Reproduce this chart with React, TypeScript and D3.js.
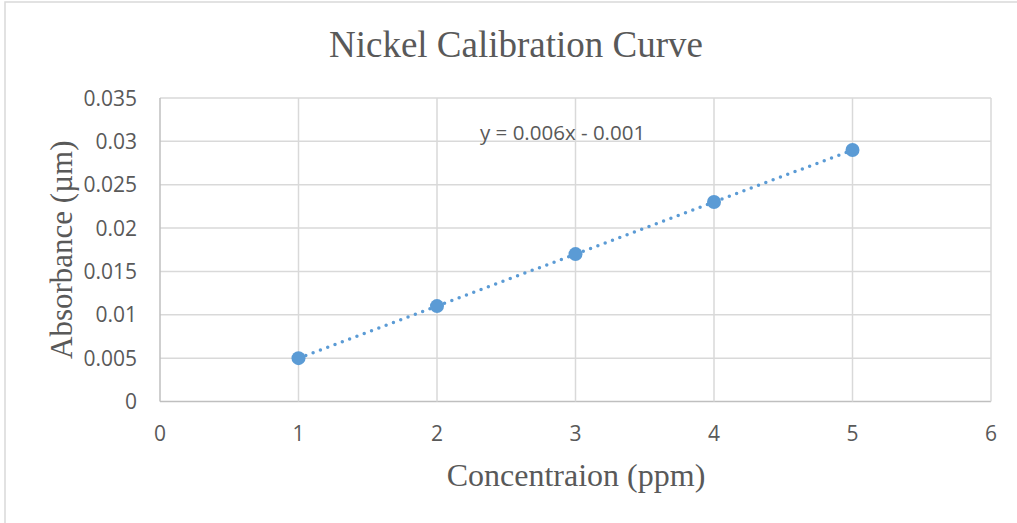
import React from "react"
import * as d3 from "d3"

const concentration = [1, 2, 3, 4, 5]
const absorbance = [0.005, 0.011, 0.017, 0.023, 0.029]
const xTicks = [0, 1, 2, 3, 4, 5, 6]
const yTicks = [0, 0.005, 0.01, 0.015, 0.02, 0.025, 0.03, 0.035]
const slope = 0.006
const intercept = -0.001

const W = 1017
const H = 523
const plot = { left: 160, right: 991, top: 98, bottom: 401.5 }
const blue = "#5B9BD5"
const sans = "'Open Sans', 'Liberation Sans', sans-serif"
const serif = "'Liberation Serif', 'DejaVu Serif', serif"

export default function App() {
  const x = d3.scaleLinear().domain([0, 6]).range([plot.left, plot.right])
  const y = d3.scaleLinear().domain([0, 0.035]).range([plot.bottom, plot.top])

  const trend = d3.line<number>()
    .x(d => x(d))
    .y(d => y(slope * d + intercept))([concentration[0], concentration[concentration.length - 1]])

  return (
    <svg width={W} height={H} style={{ position: "absolute", left: 0, top: 0, background: "white" }}>
      <rect x={5} y={2} width={W + 10} height={H + 10} fill="white" stroke="#d9d9d9" strokeWidth={1.5} />
      <text x={516} y={57} textAnchor="middle" fontFamily={serif} fontSize={37} fill="#595959">
        Nickel Calibration Curve
      </text>
      {yTicks.map(t => (
        <g key={"y" + t}>
          <line x1={plot.left} x2={plot.right} y1={y(t)} y2={y(t)} stroke={t === 0 ? "#bfbfbf" : "#d9d9d9"} strokeWidth={1.5} />
          <text x={137} y={y(t) + 7.5} textAnchor="end" fontFamily={sans} fontSize={21} fill="#595959">
            {d3.format("")(+t.toFixed(3))}
          </text>
        </g>
      ))}
      {xTicks.map(t => (
        <g key={"x" + t}>
          <line x1={x(t)} x2={x(t)} y1={plot.top} y2={plot.bottom} stroke={t === 0 ? "#bfbfbf" : "#d9d9d9"} strokeWidth={1.5} />
          <text x={x(t)} y={441} textAnchor="middle" fontFamily={sans} fontSize={21} fill="#595959">
            {t}
          </text>
        </g>
      ))}
      <path d={trend ?? ""} fill="none" stroke={blue} strokeWidth={3.5} strokeLinecap="round" strokeDasharray="0 7.8" />
      {concentration.map((c, i) => (
        <circle key={c} cx={x(c)} cy={y(absorbance[i])} r={7} fill={blue} />
      ))}
      <text x={480} y={140} fontFamily={sans} fontSize={20.5} fill="#595959">
        y = 0.006x - 0.001
      </text>
      <text
        transform={`translate(72 ${(plot.top + plot.bottom) / 2}) rotate(-90)`}
        textAnchor="middle"
        fontFamily={serif}
        fontSize={31}
        fill="#595959"
      >
        Absorbance (µm)
      </text>
      <text x={576} y={486} textAnchor="middle" fontFamily={serif} fontSize={32} fill="#595959">
        Concentraion (ppm)
      </text>
    </svg>
  )
}
